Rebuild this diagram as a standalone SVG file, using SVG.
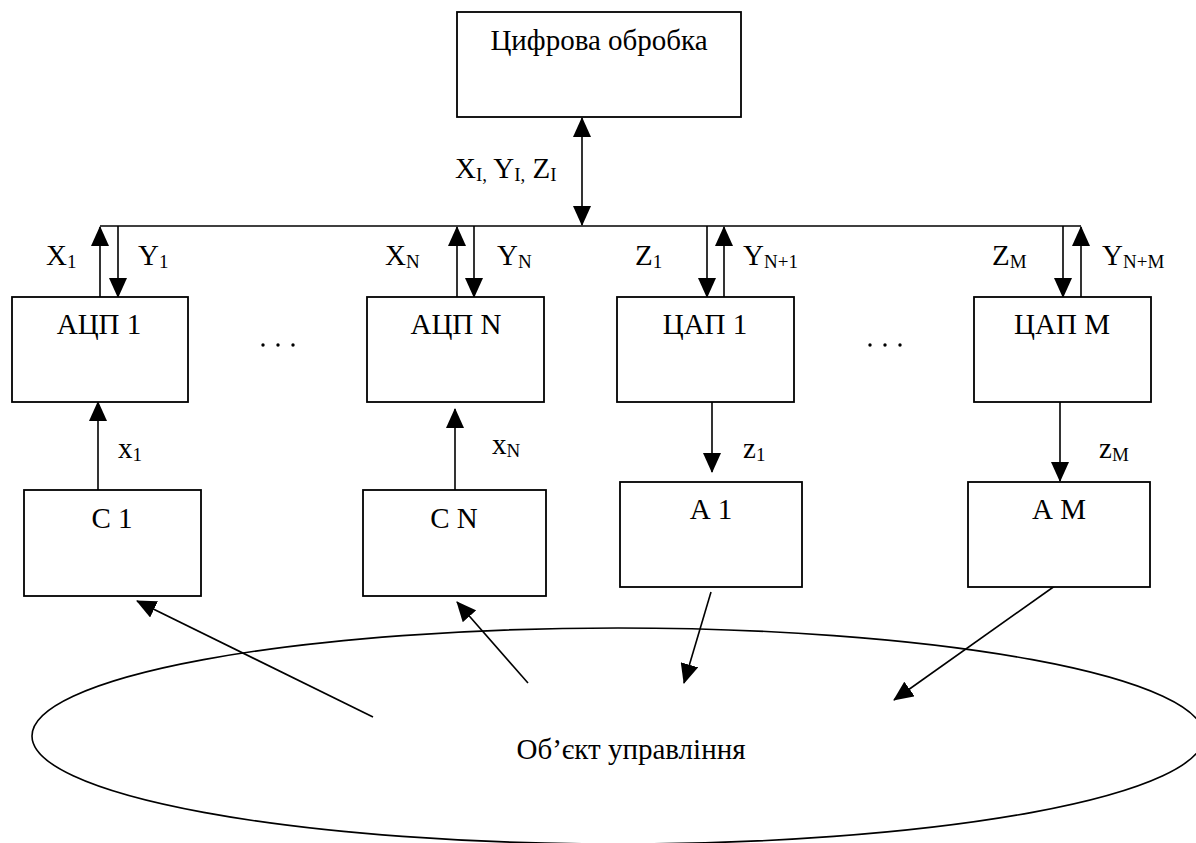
<svg xmlns="http://www.w3.org/2000/svg" width="1196" height="843" viewBox="0 0 1196 843">
<style>
.box{fill:#fff;stroke:#000;stroke-width:1.8}
.ln{fill:none;stroke:#000;stroke-width:1.6}
.t{font-family:"Liberation Serif","Times New Roman",serif;font-size:29px;fill:#000}
.c{text-anchor:middle}
.s{font-size:19px}
</style>
<defs>
<marker id="ah" markerUnits="userSpaceOnUse" markerWidth="20" markerHeight="18" viewBox="0 0 20 18" refX="19" refY="9" orient="auto-start-reverse">
<path d="M0,0 L20,9 L0,18 Z" fill="#000"/>
</marker>
</defs>
<rect width="1196" height="843" fill="#fff"/>

<g id="connectors">
<line class="ln" x1="100" y1="226" x2="1081" y2="226"/>
<line class="ln" x1="582" y1="118" x2="582" y2="225" marker-start="url(#ah)" marker-end="url(#ah)"/>
<line class="ln" x1="100" y1="297" x2="100" y2="227" marker-end="url(#ah)"/>
<line class="ln" x1="118" y1="226" x2="118" y2="297" marker-end="url(#ah)"/>
<line class="ln" x1="457" y1="297" x2="457" y2="227" marker-end="url(#ah)"/>
<line class="ln" x1="474" y1="226" x2="474" y2="297" marker-end="url(#ah)"/>
<line class="ln" x1="707" y1="226" x2="707" y2="297" marker-end="url(#ah)"/>
<line class="ln" x1="724" y1="297" x2="724" y2="227" marker-end="url(#ah)"/>
<line class="ln" x1="1063" y1="226" x2="1063" y2="297" marker-end="url(#ah)"/>
<line class="ln" x1="1081" y1="297" x2="1081" y2="227" marker-end="url(#ah)"/>
<line class="ln" x1="98" y1="490" x2="98" y2="402" marker-end="url(#ah)"/>
<line class="ln" x1="455" y1="490" x2="455" y2="409" marker-end="url(#ah)"/>
<line class="ln" x1="712" y1="402" x2="712" y2="472" marker-end="url(#ah)"/>
<line class="ln" x1="1060" y1="402" x2="1060" y2="481" marker-end="url(#ah)"/>
<line class="ln" x1="373" y1="717" x2="137" y2="601" marker-end="url(#ah)"/>
<line class="ln" x1="528" y1="683" x2="457" y2="602" marker-end="url(#ah)"/>
<line class="ln" x1="711" y1="592" x2="684" y2="683" marker-end="url(#ah)"/>
<line class="ln" x1="1059" y1="583" x2="894" y2="700" marker-end="url(#ah)"/>
</g>

<g id="labels">
<text class="t" x="455" y="178">X<tspan class="s" dy="3">I,</tspan><tspan dy="-3"> Y</tspan><tspan class="s" dy="3">I,</tspan><tspan dy="-3"> Z</tspan><tspan class="s" dy="3">I</tspan></text>
<text class="t" x="46" y="265">X<tspan class="s" dy="3">1</tspan></text>
<text class="t" x="138" y="265">Y<tspan class="s" dy="3">1</tspan></text>
<text class="t" x="385" y="265">X<tspan class="s" dy="3">N</tspan></text>
<text class="t" x="497" y="265">Y<tspan class="s" dy="3">N</tspan></text>
<text class="t" x="635" y="265">Z<tspan class="s" dy="3">1</tspan></text>
<text class="t" x="743" y="265">Y<tspan class="s" dy="3">N+1</tspan></text>
<text class="t" x="992" y="265">Z<tspan class="s" dy="3">M</tspan></text>
<text class="t" x="1102" y="265">Y<tspan class="s" dy="3">N+M</tspan></text>
<text class="t" x="118" y="458">x<tspan class="s" dy="3">1</tspan></text>
<text class="t" x="492" y="454">x<tspan class="s" dy="3">N</tspan></text>
<text class="t" x="743" y="458">z<tspan class="s" dy="3">1</tspan></text>
<text class="t" x="1099" y="458">z<tspan class="s" dy="3">M</tspan></text>
</g>

<g id="dots">
<circle cx="263" cy="345" r="1.7"/><circle cx="278" cy="345" r="1.7"/><circle cx="293" cy="345" r="1.7"/>
<circle cx="870" cy="345" r="1.7"/><circle cx="885" cy="345" r="1.7"/><circle cx="900" cy="345" r="1.7"/>
</g>

<g id="n-digital"><rect class="box" x="457" y="12" width="284" height="105"/><text class="t c" x="599" y="50">Цифрова обробка</text></g>
<g id="n-adc1"><rect class="box" x="12" y="297" width="176" height="105"/><text class="t c" x="99" y="334">АЦП 1</text></g>
<g id="n-adcN"><rect class="box" x="367" y="297" width="177" height="105"/><text class="t c" x="456" y="334">АЦП N</text></g>
<g id="n-dac1"><rect class="box" x="617" y="297" width="177" height="105"/><text class="t c" x="705" y="334">ЦАП 1</text></g>
<g id="n-dacM"><rect class="box" x="974" y="297" width="177" height="105"/><text class="t c" x="1062" y="334">ЦАП М</text></g>
<g id="n-s1"><rect class="box" x="24" y="490" width="177" height="106"/><text class="t c" x="112" y="528">С 1</text></g>
<g id="n-sN"><rect class="box" x="363" y="490" width="183" height="106"/><text class="t c" x="454" y="528">С N</text></g>
<g id="n-a1"><rect class="box" x="620" y="482" width="182" height="105"/><text class="t c" x="711" y="519">А 1</text></g>
<g id="n-aM"><rect class="box" x="968" y="482" width="182" height="105"/><text class="t c" x="1059" y="519">А М</text></g>
<g id="n-object"><ellipse class="ln" cx="618" cy="736" rx="586" ry="108"/><text class="t c" x="631" y="759">Об’єкт управління</text></g>
</svg>
